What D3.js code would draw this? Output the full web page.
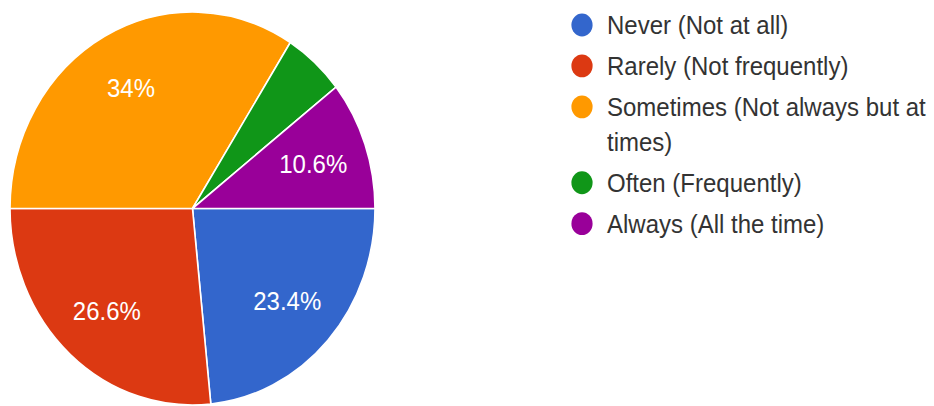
<!DOCTYPE html>
<html>
<head>
<meta charset="utf-8">
<script src="https://cdn.jsdelivr.net/npm/d3@7/dist/d3.min.js"></script>
<style>
  html, body { margin: 0; padding: 0; background: #fff; }
  svg { display: block; }
  text { font-family: "Liberation Sans", Arial, sans-serif; }
</style>
</head>
<body>
<svg id="chart" width="934" height="406"></svg>
<script>
// Survey answer categories and their share of responses (percent)
const categories = [
  "Never (Not at all)",
  "Rarely (Not frequently)",
  "Sometimes (Not always but at times)",
  "Often (Frequently)",
  "Always (All the time)"
];
const shares = [23.4, 26.6, 34, 5.4, 10.6];
const sliceLabels = ["23.4%", "26.6%", "34%", "", "10.6%"];
const colors = ["#3366cc", "#dc3912", "#ff9900", "#109618", "#990099"];

const W = 934, H = 406;
const yStretch = 1.077;           // the chart is drawn slightly taller than wide
const cx = 192.5, cy = 208.5 / yStretch, radius = 182.5;

const svg = d3.select("#chart");
const root = svg.append("g").attr("transform", `scale(1, ${yStretch})`);

const data = categories.map((c, i) => ({ name: c, value: shares[i], color: colors[i], label: sliceLabels[i] }));

// Slices run clockwise from 3 o'clock
const pie = d3.pie()
  .value(d => d.value)
  .sort(null)
  .startAngle(Math.PI / 2)
  .endAngle(Math.PI / 2 + 2 * Math.PI);

const arc = d3.arc().innerRadius(0).outerRadius(radius);
const labelArc = d3.arc().innerRadius(radius * 0.70).outerRadius(radius * 0.70);

const pieG = root.append("g").attr("transform", `translate(${cx},${cy})`);
const arcs = pie(data);

pieG.selectAll("path.slice")
  .data(arcs)
  .join("path")
  .attr("class", "slice")
  .attr("d", arc)
  .attr("fill", d => d.data.color)
  .attr("stroke", "#ffffff")
  .attr("stroke-width", 1.6)
  .attr("stroke-linejoin", "round");

pieG.selectAll("text.pct")
  .data(arcs.filter(d => d.data.label))
  .join("text")
  .attr("class", "pct")
  .attr("transform", d => `translate(${labelArc.centroid(d)})`)
  .attr("text-anchor", "middle")
  .attr("dominant-baseline", "central")
  .attr("font-size", 24)
  .attr("fill", "#ffffff")
  .text(d => d.data.label);

// Legend
const legendX = 582, textX = 607, maxTextWidth = 326;
const firstY = 23.2, lineH = 32.5, itemGap = 5.5;
const legend = root.append("g");
let y = firstY;
data.forEach(d => {
  legend.append("circle")
    .attr("cx", legendX)
    .attr("cy", y)
    .attr("r", 10.6)
    .attr("fill", d.color);

  const t = legend.append("text")
    .attr("x", textX)
    .attr("y", y)
    .attr("dominant-baseline", "central")
    .attr("font-size", 24)
    .attr("fill", "#333333");

  // wrap words onto extra lines when they run past the right edge
  const words = d.name.split(" ");
  let line = [];
  let lineIdx = 0;
  let tspan = t.append("tspan").attr("x", textX).attr("y", y);
  words.forEach(w => {
    line.push(w);
    tspan.text(line.join(" "));
    if (tspan.node().getComputedTextLength() > maxTextWidth && line.length > 1) {
      line.pop();
      tspan.text(line.join(" "));
      line = [w];
      lineIdx += 1;
      tspan = t.append("tspan").attr("x", textX).attr("y", y + lineIdx * lineH).text(w);
    }
  });
  y += (lineIdx + 1) * lineH + itemGap;
});
</script>
</body>
</html>
